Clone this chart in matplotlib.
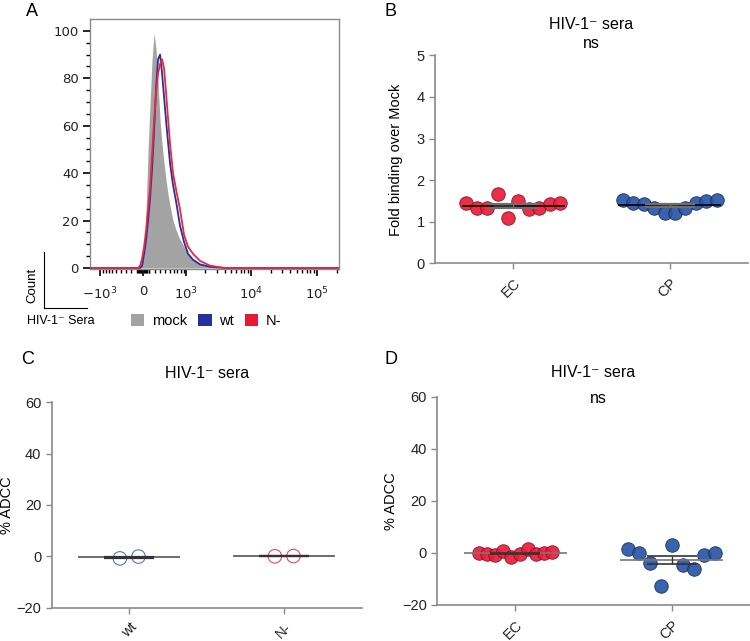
import numpy as np
import matplotlib.pyplot as plt
from matplotlib.patches import Patch
from matplotlib.lines import Line2D
from matplotlib.ticker import FixedLocator, FixedFormatter

plt.rcParams['font.family'] = ['Liberation Sans', 'DejaVu Sans']

# ---------- panel A: flow histograms (fluorescence vs % of max) ----------
fl_bins = [-115, -81, -49, -16, 16, 49, 81, 115, 148, 183, 218, 254, 292, 331,
           372, 414, 458, 506, 579, 662, 777, 915, 1068, 1285, 1665, 2379, 4037]
mock_counts = [0, 0, 0.5, 2, 6, 25, 50, 70, 88, 99, 92, 78, 62, 52,
               44, 37, 31, 26, 20, 16, 12, 9, 6, 4, 2, 0.5, 0]
wt_counts = [0, 0, 0, 1, 6, 12, 20, 30, 42, 58, 76, 88, 90, 82,
             72, 62, 53, 44, 35, 28, 18, 11, 6, 3.5, 1.5, 0.5, 0]
nminus_counts = [0, 0, 1, 4, 9, 16, 25, 34, 48, 62, 74, 82, 86, 88,
                 84, 74, 63, 52, 40, 33, 25, 14, 9, 6, 3, 1, 0]
hist_labels = ['mock', 'wt', 'N-']

# ---------- panel B: fold binding over mock ----------
b_groups = ['EC', 'CP']
b_ec = [1.44, 1.34, 1.34, 1.67, 1.08, 1.50, 1.30, 1.34, 1.42, 1.44]
b_cp = [1.52, 1.44, 1.42, 1.32, 1.20, 1.22, 1.34, 1.44, 1.50, 1.52]

# ---------- panel C: % ADCC, wt vs N- ----------
c_groups = ['wt', 'N-']
c_wt = [-0.8, -0.1]
c_nminus = [0.0, 0.1]

# ---------- panel D: % ADCC, EC vs CP ----------
d_groups = ['EC', 'CP']
d_ec = [-0.2, -0.5, -0.8, 0.8, -1.6, -0.6, 1.5, -0.6, -0.2, 0.2]
d_cp = [1.4, 0.1, -3.8, -12.7, 3.0, -4.6, -6.2, -0.8, 0.1]

RED = '#ec1c3a'
RED_EDGE = '#7c101e'
BLUE = '#2a55a6'
BLUE_EDGE = '#15285a'
AX_GRAY = '#8a8a8a'
TITLE = 'HIV-1\u207b sera'

fig = plt.figure(figsize=(7.5, 6.41), dpi=100)

# ------------ A -------------
W = 465.0
axA = fig.add_axes([0.12, 0.5808, 0.3324, 0.3896])
axA.set_xscale('function', functions=(lambda x: np.arcsinh(x / W),
                                      lambda y: W * np.sinh(y)))
xmin, xmax = -1450, 2.2e5
xs = [xmin] + fl_bins + [xmax]
ym = [0] + mock_counts + [0]
yw = [0] + wt_counts + [0]
yn = [0] + nminus_counts + [0]
axA.fill_between(xs, ym, 0, color='#a3a3a3', lw=0, zorder=1)
axA.plot(xs, yw, color='#2b2f9c', lw=1.3, zorder=2)
axA.plot(xs, yn, color='#e8283c', lw=1.3, zorder=3)
axA.set_xlim(xmin, xmax)
axA.set_ylim(-0.3, 105)
for s in axA.spines.values():
    s.set_color(AX_GRAY)
    s.set_linewidth(1.0)

major_x = [-1e3, 0, 1e3, 1e4, 1e5]
minor_x = ([-v for v in range(100, 1000, 100)] + [-v for v in range(10, 100, 20)]
           + list(range(10, 100, 20)) + list(range(100, 1000, 100))
           + list(range(2000, 10000, 1000)) + list(range(20000, 100000, 10000))
           + [200000])
axA.xaxis.set_major_locator(FixedLocator(major_x))
axA.xaxis.set_major_formatter(FixedFormatter([r'$-10^3$', '0', r'$10^3$', r'$10^4$', r'$10^5$']))
axA.xaxis.set_minor_locator(FixedLocator(minor_x))
axA.yaxis.set_major_locator(FixedLocator([0, 20, 40, 60, 80, 100]))
axA.yaxis.set_minor_locator(FixedLocator(list(range(5, 105, 5))))
axA.tick_params(axis='both', which='major', length=5, width=1.2, color='black',
                labelsize=9.5, pad=3)
axA.tick_params(axis='both', which='minor', length=3, width=1.0, color='black')
axA.tick_params(axis='x', which='major', pad=7)
for lab in axA.get_xticklabels() + axA.get_yticklabels():
    lab.set_family('DejaVu Sans')
    lab.set_color('#222222')

handles = [Patch(facecolor='#a3a3a3'), Patch(facecolor='#26309a'), Patch(facecolor='#e31b35')]
fig.legend(handles, hist_labels, loc='center', bbox_to_anchor=(0.275, 0.499), ncol=3,
           frameon=False, fontsize=10.5, handlelength=0.9, handleheight=0.9,
           handletextpad=0.5, columnspacing=0.8)

# count / channel indicator
fig.add_artist(Line2D([44 / 750, 44 / 750], [1 - 252 / 641, 1 - 308 / 641],
                      color='black', lw=0.8, transform=fig.transFigure))
fig.add_artist(Line2D([44 / 750, 87 / 750], [1 - 308 / 641, 1 - 308 / 641],
                      color='black', lw=0.8, transform=fig.transFigure))
narrow = ['Liberation Sans Narrow', 'Liberation Sans', 'DejaVu Sans']
fig.text(32 / 750, 1 - 285 / 641, 'Count', rotation=90, ha='center', va='center',
         fontsize=9.5, family=narrow)
fig.text(61 / 750, 1 - 321 / 641, 'HIV-1\u207b Sera', ha='center', va='center',
         fontsize=9, family=narrow)


# ------------ dot plots -------------
def dot_panel(ax, groups, values, faces, edges, spreads, ylim, yticks,
              mean_color, cap_color, cap_lw, hollow=False):
    for i, (vals, fc, ec, sp) in enumerate(zip(values, faces, edges, spreads)):
        vals = np.asarray(vals, dtype=float)
        n = len(vals)
        xs = i + np.linspace(-sp, sp, n)
        if hollow:
            ax.scatter(xs, vals, s=95, facecolors='none', edgecolors=ec,
                       linewidths=0.8, zorder=2)
        else:
            ax.scatter(xs, vals, s=95, color=fc, edgecolors=ec, linewidths=0.6,
                       alpha=0.92, zorder=2)
        m = vals.mean()
        sem = vals.std(ddof=1) / np.sqrt(n)
        ax.hlines(m, i - 0.33, i + 0.33, color=mean_color, lw=1.2, zorder=3)
        ax.hlines([m - sem, m + sem], i - 0.16, i + 0.16, color=cap_color,
                  lw=cap_lw, zorder=4)
        ax.vlines(i, m - sem, m + sem, color=cap_color, lw=1.0, zorder=4)
    ax.set_xlim(-0.5, 1.5)
    ax.set_ylim(*ylim)
    ax.set_yticks(yticks)
    ax.set_xticks(range(len(groups)))
    ax.set_xticklabels(groups, rotation=45, ha='right', rotation_mode='anchor',
                       fontsize=11.5)
    for s in ['top', 'right']:
        ax.spines[s].set_visible(False)
    for s in ['left', 'bottom']:
        ax.spines[s].set_color(AX_GRAY)
        ax.spines[s].set_linewidth(1.2)
    ax.tick_params(axis='both', length=4, width=1.0, color=AX_GRAY,
                   labelsize=10.5, labelcolor='#222222')
    ax.tick_params(axis='x', pad=5)


axB = fig.add_axes([0.580, 0.5892, 0.4173, 0.3245])
dot_panel(axB, b_groups, [b_ec, b_cp], [RED, BLUE], [RED_EDGE, BLUE_EDGE],
          [0.30, 0.30], (0, 5), [0, 1, 2, 3, 4, 5], 'black', '#6f6f6f', 1.6)
axB.set_ylabel('Fold binding over Mock', fontsize=10.5)
axB.yaxis.set_label_coords(-0.102, 0.5)
axB.text(0.5, 1.146, TITLE, transform=axB.transAxes, ha='center', va='center',
         fontsize=11.5)
axB.text(0.5, 1.059, 'ns', transform=axB.transAxes, ha='center', va='center',
         fontsize=11.5)

axC = fig.add_axes([0.0689, 0.0520, 0.4133, 0.3204])
dot_panel(axC, c_groups, [c_wt, c_nminus], [BLUE, RED], ['#5b78b8', '#e8485a'],
          [0.06, 0.06], (-20, 60), [-20, 0, 20, 40, 60], '#555555', '#333333', 1.6,
          hollow=True)
axC.set_ylabel('% ADCC', fontsize=10.5)
axC.yaxis.set_label_coords(-0.122, 0.5)
axC.text(0.5, 1.14, TITLE, transform=axC.transAxes, ha='center', va='center',
         fontsize=11.5)

axD = fig.add_axes([0.5831, 0.0562, 0.4166, 0.325])
dot_panel(axD, d_groups, [d_ec, d_cp], [RED, BLUE], [RED_EDGE, BLUE_EDGE],
          [0.235, 0.28], (-20, 60), [-20, 0, 20, 40, 60], '#777777', '#333333', 1.2)
axD.set_ylabel('% ADCC', fontsize=10.5)
axD.yaxis.set_label_coords(-0.126, 0.5)
axD.text(0.5, 1.115, TITLE, transform=axD.transAxes, ha='center', va='center',
         fontsize=11.5)
axD.text(0.515, 0.99, 'ns', transform=axD.transAxes, ha='center', va='center',
         fontsize=11.5)

# panel letters
for lbl, (px, py) in zip('ABCD', [(32, 11), (390, 11), (28, 359), (391, 359)]):
    fig.text(px / 750, 1 - py / 641, lbl, ha='center', va='center', fontsize=13)

fig.savefig('out.png', dpi=100)
